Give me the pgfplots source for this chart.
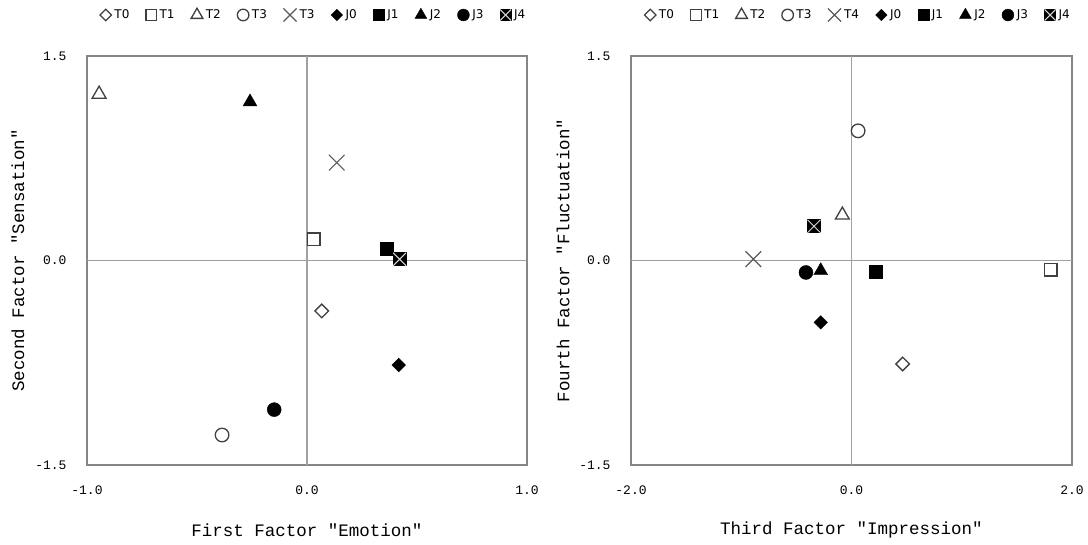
\documentclass[border=0pt]{standalone}
\usepackage{fontspec}
\setmainfont{Liberation Mono}[Ligatures=TeXOff]
\setsansfont{DejaVu Sans}[Ligatures=TeXOff]
\usepackage{pgfplots}
\pgfplotsset{compat=1.18}
\usetikzlibrary{plotmarks}
\definecolor{axgray}{HTML}{868686}
\definecolor{zgray}{HTML}{A0A0A0}
\definecolor{mkgray}{HTML}{404040}
\definecolor{xgray}{HTML}{5A5A5A}

\pgfdeclareplotmark{boxx}{%
  \pgfpathrectangle{\pgfqpoint{-\pgfplotmarksize}{-\pgfplotmarksize}}{\pgfqpoint{2\pgfplotmarksize}{2\pgfplotmarksize}}%
  \pgfusepathqfillstroke
  \pgfsetstrokecolor{white!70!gray}%
  \pgfpathmoveto{\pgfqpoint{-\pgfplotmarksize}{-\pgfplotmarksize}}%
  \pgfpathlineto{\pgfqpoint{\pgfplotmarksize}{\pgfplotmarksize}}%
  \pgfpathmoveto{\pgfqpoint{-\pgfplotmarksize}{\pgfplotmarksize}}%
  \pgfpathlineto{\pgfqpoint{\pgfplotmarksize}{-\pgfplotmarksize}}%
  \pgfusepathqstroke
}

\pgfplotsset{
  fa/.style={
    scale only axis, height=409pt,
    ymin=-1.5, ymax=1.5,
    ytick={-1.5,0,1.5}, yticklabels={{-1.5},{0.0},{1.5}},
    axis line style={draw=axgray, line width=1.8pt},
    major tick length=0pt, tick style={draw=none},
    tick label style={font=\fontsize{13}{15}\selectfont},
    xticklabel style={anchor=center, yshift=-25pt},
    yticklabel style={anchor=east, xshift=-17pt},
    label style={font=\fontsize{17.5}{20}\selectfont},
    legend columns=10,
    legend style={draw=none, fill=none, font=\sffamily\fontsize{12}{14}\selectfont,
      at={(axis description cs:0.515,1)}, anchor=center, yshift=41pt,
      /tikz/every even column/.append style={column sep=14.5pt},
      /tikz/every odd column/.append style={column sep=1pt}},
    legend image code/.code={\draw[#1,mark repeat=2,mark phase=2] plot coordinates {(0pt,0pt) (5pt,0pt) (10pt,0pt)};},
    legend image post style={scale=0.85},
    clip=false,
  },
  sT0/.style={only marks, mark=square, mark size=4.8pt, mark options={rotate=45, fill=white, draw=mkgray, line width=1.3pt}},
  sT1/.style={only marks, mark=square*, mark size=6.3pt, mark options={fill=white, draw=mkgray, line width=1.3pt}},
  sT2/.style={only marks, mark=triangle*, mark size=8pt, mark options={fill=white, draw=mkgray, line width=1.3pt}},
  sT3/.style={only marks, mark=*, mark size=6.8pt, mark options={fill=white, draw=mkgray, line width=1.3pt}},
  sT4/.style={only marks, mark=x, mark size=11pt, mark options={draw=xgray, line width=1.1pt}},
  sJ0/.style={only marks, mark=square*, mark size=4.8pt, mark options={rotate=45, fill=black, draw=black}},
  sJ1/.style={only marks, mark=square*, mark size=6.5pt, mark options={fill=black, draw=black}},
  sJ2/.style={only marks, mark=triangle*, mark size=8pt, mark options={fill=black, draw=black}},
  sJ3/.style={only marks, mark=*, mark size=7pt, mark options={fill=black, draw=black}},
  sJ4/.style={only marks, mark=boxx, mark size=6.5pt, mark options={fill=black, draw=black, line width=1pt}},
}

\begin{document}
\begin{tikzpicture}
\useasboundingbox (0,0) rectangle (1088pt,545pt);
\fill[white] (0,0) rectangle (1088pt,545pt);

% Left chart
\begin{axis}[fa, at={(87pt,80pt)}, anchor=south west, width=440pt,
  xmin=-1, xmax=1, xtick={-1,0,1}, xticklabels={{-1.0},{0.0},{1.0}},
  xlabel={First Factor "Emotion"}, ylabel={Second Factor "Sensation"},
  xlabel style={at={(axis description cs:0.5,-0.159)}, anchor=center},
  ylabel style={at={(axis description cs:-0.157,0.5)}, anchor=center}]
\addplot[forget plot, draw=zgray, line width=1.5pt] coordinates {(-1,0) (1,0)};
\addplot[forget plot, draw=zgray, line width=1.5pt] coordinates {(0,-1.5) (0,1.5)};
\addplot[sT0] coordinates {(0.067,-0.37)};
\addlegendentry{T0}
\addplot[sT1] coordinates {(0.030,0.155)};
\addlegendentry{T1}
\addplot[sT2] coordinates {(-0.945,1.22)};
\addlegendentry{T2}
\addplot[sT3] coordinates {(-0.386,-1.28)};
\addlegendentry{T3}
\addplot[sT4] coordinates {(0.135,0.718)};
\addlegendentry{T3}
\addplot[sJ0] coordinates {(0.417,-0.767)};
\addlegendentry{J0}
\addplot[sJ1] coordinates {(0.364,0.089)};
\addlegendentry{J1}
\addplot[sJ2] coordinates {(-0.259,1.163)};
\addlegendentry{J2}
\addplot[sJ3] coordinates {(-0.149,-1.094)};
\addlegendentry{J3}
\addplot[sJ4] coordinates {(0.421,0.009)};
\addlegendentry{J4}
\end{axis}

% Right chart
\begin{axis}[fa, at={(631pt,80pt)}, anchor=south west, width=441pt,
  xmin=-2, xmax=2, xtick={-2,0,2}, xticklabels={{-2.0},{0.0},{2.0}},
  xlabel={Third Factor "Impression"}, ylabel={Fourth Factor "Fluctuation"},
  xlabel style={at={(axis description cs:0.5,-0.159)}, anchor=center},
  ylabel style={at={(axis description cs:-0.154,0.5)}, anchor=center}]
\addplot[forget plot, draw=zgray, line width=1.5pt] coordinates {(-2,0) (2,0)};
\addplot[forget plot, draw=zgray, line width=1.5pt] coordinates {(0,-1.5) (0,1.5)};
\addplot[sT0] coordinates {(0.464,-0.759)};
\addlegendentry{T0}
\addplot[sT1] coordinates {(1.806,-0.068)};
\addlegendentry{T1}
\addplot[sT2] coordinates {(-0.083,0.333)};
\addlegendentry{T2}
\addplot[sT3] coordinates {(0.060,0.951)};
\addlegendentry{T3}
\addplot[sT4] coordinates {(-0.890,0.010)};
\addlegendentry{T4}
\addplot[sJ0] coordinates {(-0.279,-0.454)};
\addlegendentry{J0}
\addplot[sJ1] coordinates {(0.219,-0.080)};
\addlegendentry{J1}
\addplot[sJ2] coordinates {(-0.279,-0.075)};
\addlegendentry{J2}
\addplot[sJ3] coordinates {(-0.413,-0.088)};
\addlegendentry{J3}
\addplot[sJ4] coordinates {(-0.340,0.251)};
\addlegendentry{J4}
\end{axis}
\end{tikzpicture}
\end{document}
